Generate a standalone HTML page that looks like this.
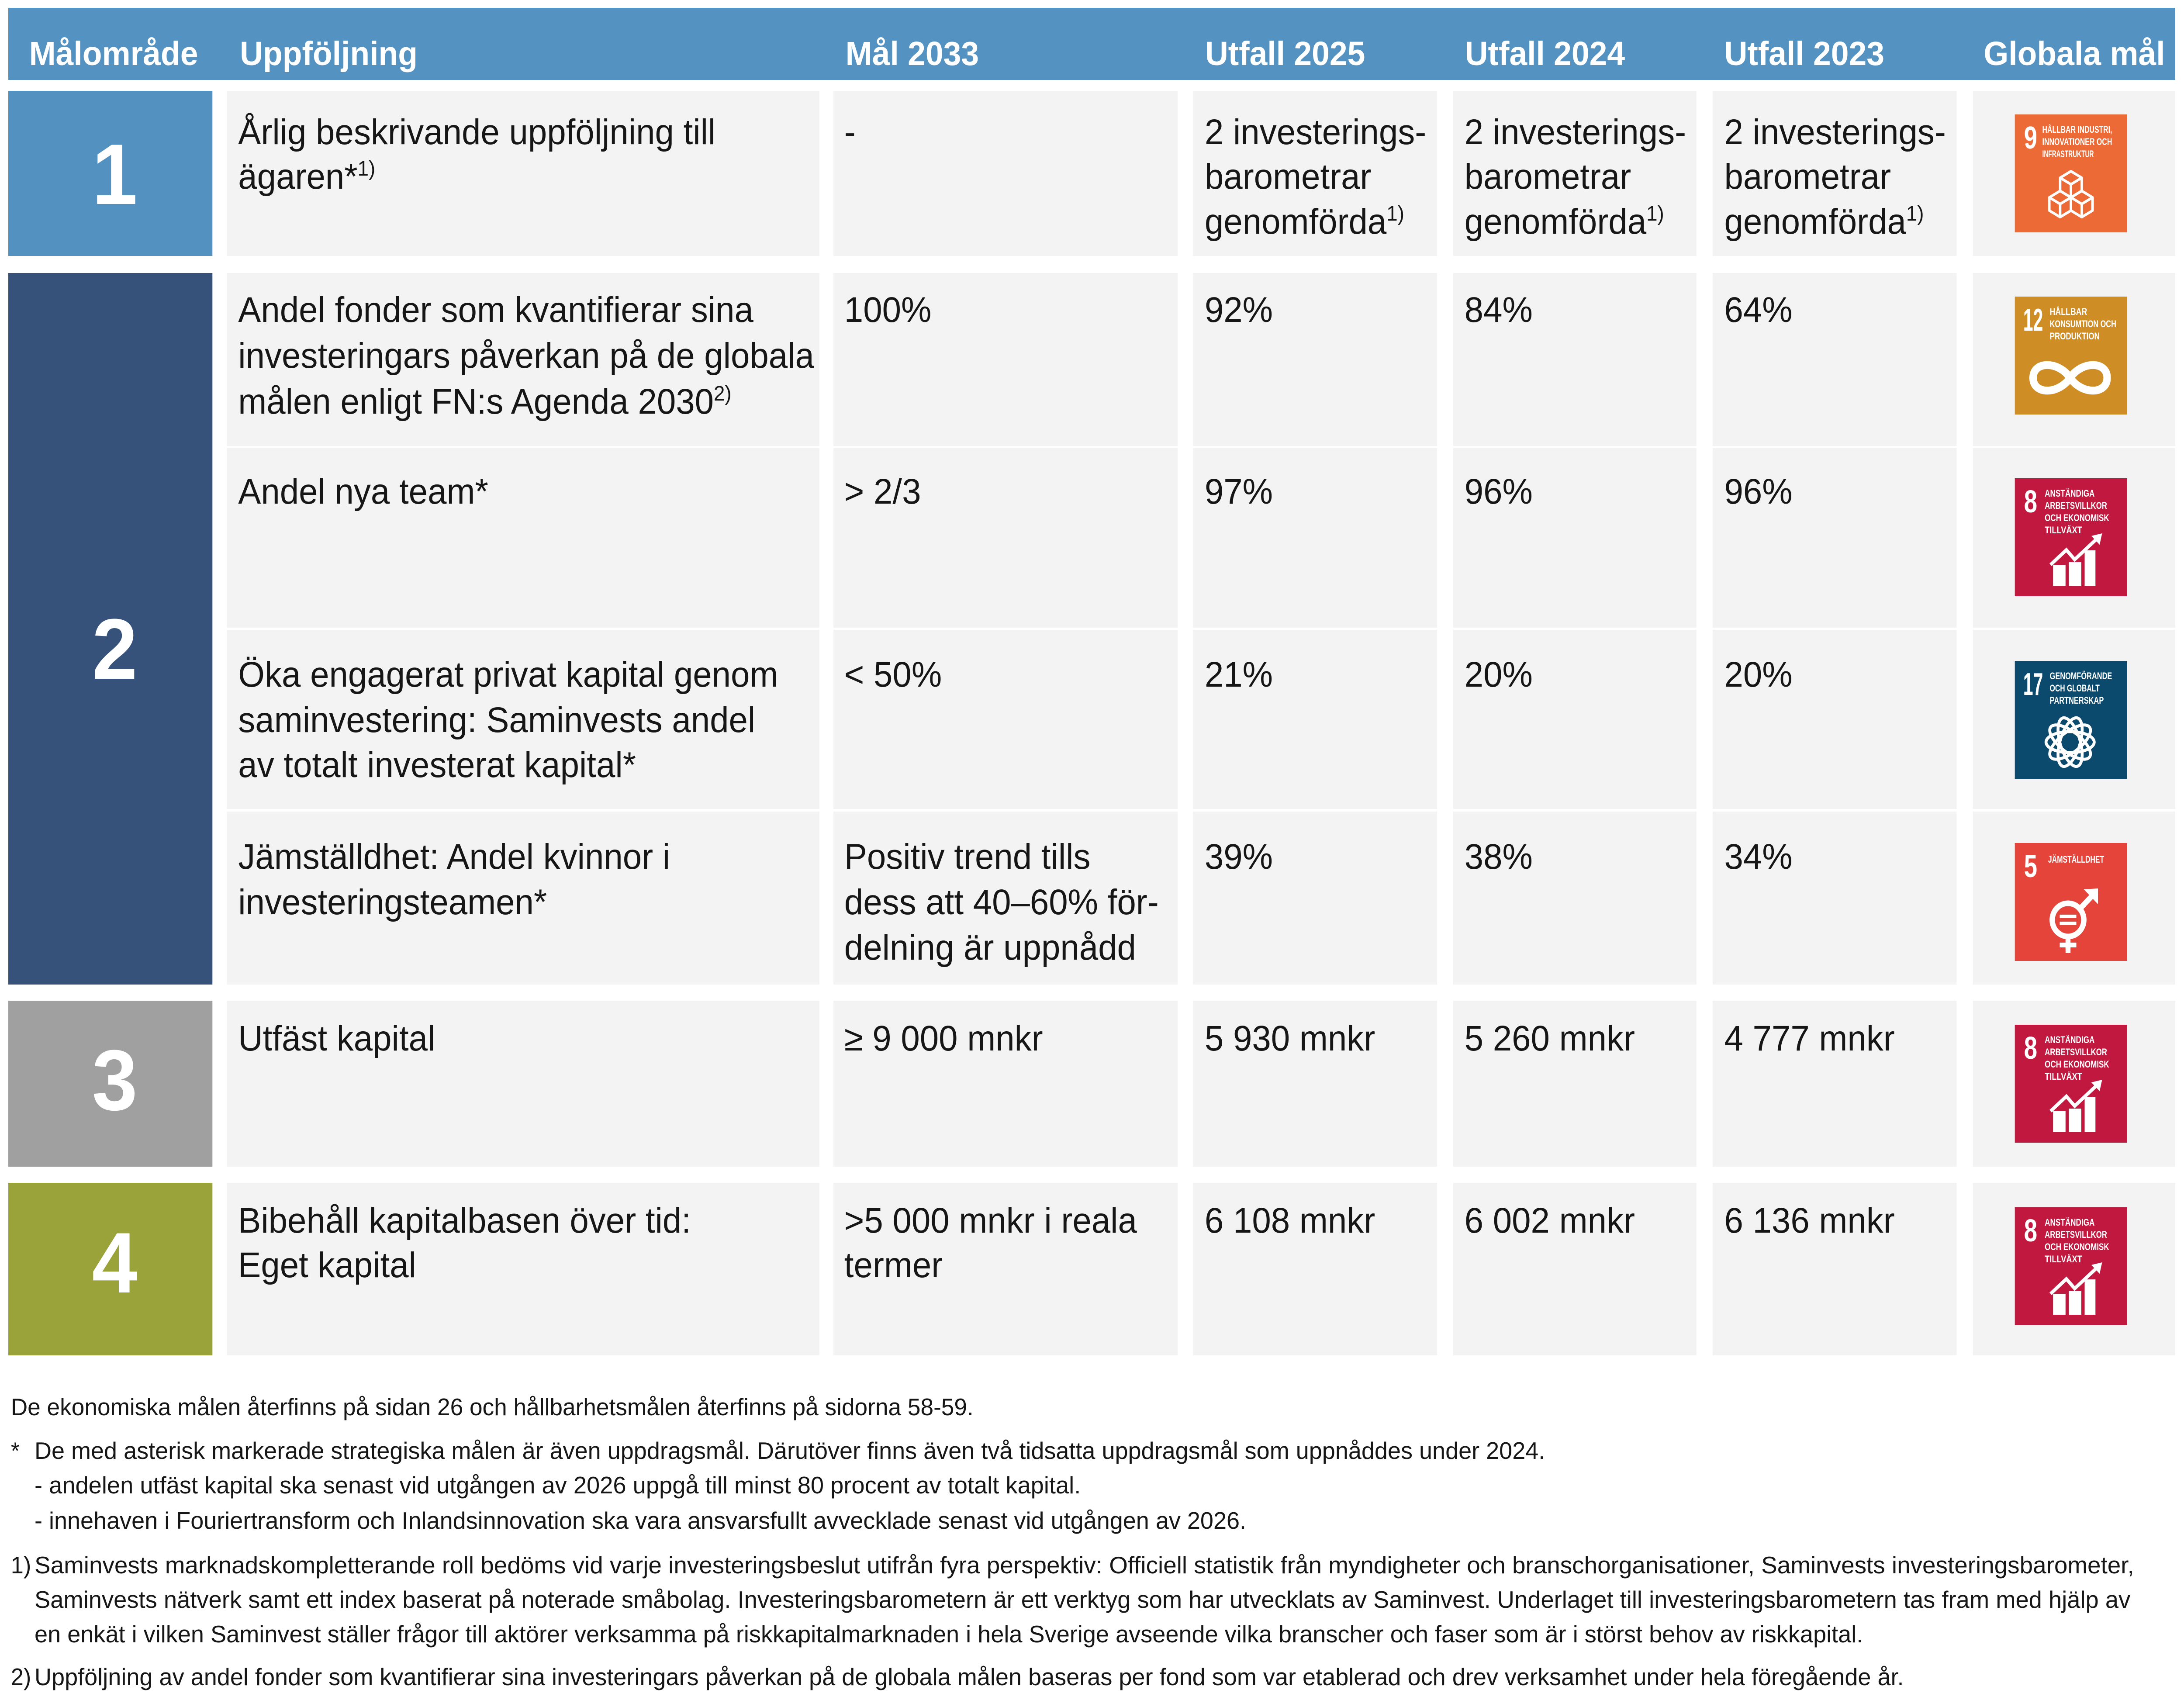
<!DOCTYPE html>
<html>
<head>
<meta charset="utf-8">
<style>
html,body{margin:0;padding:0;background:#fff;width:100%;height:100%;overflow:hidden;}
svg{position:absolute;left:0;top:0;width:100vw;height:100vh;display:block;}
.t{font-family:"Liberation Sans",sans-serif;font-size:82px;fill:#161616;}
.h{font-family:"Liberation Sans",sans-serif;font-size:77px;font-weight:bold;fill:#fff;}
.d{font-family:"Liberation Sans",sans-serif;font-size:197px;font-weight:bold;fill:#fff;}
.f{font-family:"Liberation Sans",sans-serif;font-size:55px;fill:#161616;}
.n{font-family:"Liberation Sans",sans-serif;font-size:72px;font-weight:bold;fill:#fff;}
.s{font-family:"Liberation Sans",sans-serif;font-size:22px;font-weight:bold;fill:#fff;}
</style>
</head>
<body>
<svg viewBox="0 0 5254 3892" preserveAspectRatio="none" xmlns="http://www.w3.org/2000/svg">
<rect x="0" y="0" width="5254" height="3892" fill="#ffffff"/>

<!-- Header -->
<rect x="20" y="18" width="5213" height="165" fill="#5492c2"/>
<text class="h" x="70" y="149">Målområde</text>
<text class="h" x="577" y="149">Uppföljning</text>
<text class="h" x="2034" y="149">Mål 2033</text>
<text class="h" x="2899" y="149">Utfall 2025</text>
<text class="h" x="3524" y="149">Utfall 2024</text>
<text class="h" x="4148" y="149">Utfall 2023</text>
<text class="h" x="4772" y="149">Globala mål</text>

<!-- Column 1 blocks -->
<rect x="20" y="208" width="491" height="378" fill="#5391c1"/>
<rect x="20" y="625" width="491" height="1629" fill="#36527b"/>
<rect x="20" y="2291" width="491" height="380" fill="#a0a0a0"/>
<rect x="20" y="2708" width="491" height="395" fill="#9aa23a"/>
<text class="d" x="276" y="467" text-anchor="middle">1</text>
<text class="d" x="276" y="1554" text-anchor="middle">2</text>
<text class="d" x="276" y="2541" text-anchor="middle">3</text>
<text class="d" x="276" y="2959" text-anchor="middle">4</text>

<!-- Cells -->
<g fill="#f3f3f3">
<rect x="546" y="208" width="1425" height="378"/>
<rect x="2005" y="208" width="828" height="378"/>
<rect x="2870" y="208" width="587" height="378"/>
<rect x="3496" y="208" width="585" height="378"/>
<rect x="4120" y="208" width="587" height="378"/>
<rect x="4746" y="208" width="487" height="378"/>

<rect x="546" y="625" width="1425" height="396"/>
<rect x="2005" y="625" width="828" height="396"/>
<rect x="2870" y="625" width="587" height="396"/>
<rect x="3496" y="625" width="585" height="396"/>
<rect x="4120" y="625" width="587" height="396"/>
<rect x="4746" y="625" width="487" height="396"/>

<rect x="546" y="1026" width="1425" height="411"/>
<rect x="2005" y="1026" width="828" height="411"/>
<rect x="2870" y="1026" width="587" height="411"/>
<rect x="3496" y="1026" width="585" height="411"/>
<rect x="4120" y="1026" width="587" height="411"/>
<rect x="4746" y="1026" width="487" height="411"/>

<rect x="546" y="1442" width="1425" height="410"/>
<rect x="2005" y="1442" width="828" height="410"/>
<rect x="2870" y="1442" width="587" height="410"/>
<rect x="3496" y="1442" width="585" height="410"/>
<rect x="4120" y="1442" width="587" height="410"/>
<rect x="4746" y="1442" width="487" height="410"/>

<rect x="546" y="1858" width="1425" height="396"/>
<rect x="2005" y="1858" width="828" height="396"/>
<rect x="2870" y="1858" width="587" height="396"/>
<rect x="3496" y="1858" width="585" height="396"/>
<rect x="4120" y="1858" width="587" height="396"/>
<rect x="4746" y="1858" width="487" height="396"/>

<rect x="546" y="2291" width="1425" height="380"/>
<rect x="2005" y="2291" width="828" height="380"/>
<rect x="2870" y="2291" width="587" height="380"/>
<rect x="3496" y="2291" width="585" height="380"/>
<rect x="4120" y="2291" width="587" height="380"/>
<rect x="4746" y="2291" width="487" height="380"/>

<rect x="546" y="2708" width="1425" height="395"/>
<rect x="2005" y="2708" width="828" height="395"/>
<rect x="2870" y="2708" width="587" height="395"/>
<rect x="3496" y="2708" width="585" height="395"/>
<rect x="4120" y="2708" width="587" height="395"/>
<rect x="4746" y="2708" width="487" height="395"/>
</g>

<!-- Row 1 text -->
<text class="t" x="573" y="330">Årlig beskrivande uppföljning till</text>
<text class="t" x="573" y="432">ägaren*<tspan font-size="48" dy="-30">1)</tspan></text>
<text class="t" x="2031" y="330">-</text>
<text class="t" x="2898" y="330">2 investerings-</text>
<text class="t" x="2898" y="432">barometrar</text>
<text class="t" x="2898" y="535">genomförda<tspan font-size="48" dy="-30">1)</tspan></text>
<text class="t" x="3523" y="330">2 investerings-</text>
<text class="t" x="3523" y="432">barometrar</text>
<text class="t" x="3523" y="535">genomförda<tspan font-size="48" dy="-30">1)</tspan></text>
<text class="t" x="4148" y="330">2 investerings-</text>
<text class="t" x="4148" y="432">barometrar</text>
<text class="t" x="4148" y="535">genomförda<tspan font-size="48" dy="-30">1)</tspan></text>

<!-- Row 2a -->
<text class="t" x="573" y="737">Andel fonder som kvantifierar sina</text>
<text class="t" x="573" y="842">investeringars påverkan på de globala</text>
<text class="t" x="573" y="947">målen enligt FN:s Agenda 2030<tspan font-size="48" dy="-30">2)</tspan></text>
<text class="t" x="2031" y="737">100%</text>
<text class="t" x="2898" y="737">92%</text>
<text class="t" x="3523" y="737">84%</text>
<text class="t" x="4148" y="737">64%</text>

<!-- Row 2b -->
<text class="t" x="573" y="1153">Andel nya team*</text>
<text class="t" x="2031" y="1153">&gt; 2/3</text>
<text class="t" x="2898" y="1153">97%</text>
<text class="t" x="3523" y="1153">96%</text>
<text class="t" x="4148" y="1153">96%</text>

<!-- Row 2c -->
<text class="t" x="573" y="1572">Öka engagerat privat kapital genom</text>
<text class="t" x="573" y="1676">saminvestering: Saminvests andel</text>
<text class="t" x="573" y="1779">av totalt investerat kapital*</text>
<text class="t" x="2031" y="1572">&lt; 50%</text>
<text class="t" x="2898" y="1572">21%</text>
<text class="t" x="3523" y="1572">20%</text>
<text class="t" x="4148" y="1572">20%</text>

<!-- Row 2d -->
<text class="t" x="573" y="1989">Jämställdhet: Andel kvinnor i</text>
<text class="t" x="573" y="2093">investeringsteamen*</text>
<text class="t" x="2031" y="1989">Positiv trend tills</text>
<text class="t" x="2031" y="2093">dess att 40–60% för-</text>
<text class="t" x="2031" y="2197">delning är uppnådd</text>
<text class="t" x="2898" y="1989">39%</text>
<text class="t" x="3523" y="1989">38%</text>
<text class="t" x="4148" y="1989">34%</text>

<!-- Row 3 -->
<text class="t" x="573" y="2405">Utfäst kapital</text>
<text class="t" x="2031" y="2405">≥ 9 000 mnkr</text>
<text class="t" x="2898" y="2405">5 930 mnkr</text>
<text class="t" x="3523" y="2405">5 260 mnkr</text>
<text class="t" x="4148" y="2405">4 777 mnkr</text>

<!-- Row 4 -->
<text class="t" x="573" y="2822">Bibehåll kapitalbasen över tid:</text>
<text class="t" x="573" y="2924">Eget kapital</text>
<text class="t" x="2031" y="2822">&gt;5 000 mnkr i reala</text>
<text class="t" x="2031" y="2924">termer</text>
<text class="t" x="2898" y="2822">6 108 mnkr</text>
<text class="t" x="3523" y="2822">6 002 mnkr</text>
<text class="t" x="4148" y="2822">6 136 mnkr</text>

<!-- SDG 9 -->
<g transform="translate(4847,262)">
<rect width="270" height="270" fill="#ec6a36"/>
<text class="n" x="22" y="78" textLength="32" lengthAdjust="spacingAndGlyphs">9</text>
<text class="s" x="66" y="42" textLength="168" lengthAdjust="spacingAndGlyphs">HÅLLBAR INDUSTRI,</text>
<text class="s" x="66" y="70" textLength="168" lengthAdjust="spacingAndGlyphs">INNOVATIONER OCH</text>
<text class="s" x="66" y="98" textLength="124" lengthAdjust="spacingAndGlyphs">INFRASTRUKTUR</text>
<g fill="none" stroke="#fff" stroke-width="6" stroke-linejoin="round">
<path d="M135 130 L161 145 L161 175 L135 190 L109 175 L109 145 Z M135 160 V190 M135 160 L109 145 M135 160 L161 145"/>
<path d="M109 175 L135 190 L135 220 L109 235 L83 220 L83 190 Z M109 205 V235 M109 205 L83 190 M109 205 L135 190"/>
<path d="M161 175 L187 190 L187 220 L161 235 L135 220 L135 190 Z M161 205 V235 M161 205 L135 190 M161 205 L187 190"/>
</g>
</g>

<!-- SDG 12 -->
<g transform="translate(4847,679)">
<rect width="270" height="270" fill="#cf8d26"/>
<text class="n" x="20" y="78" textLength="48" lengthAdjust="spacingAndGlyphs">12</text>
<text class="s" x="84" y="42" textLength="90" lengthAdjust="spacingAndGlyphs">HÅLLBAR</text>
<text class="s" x="84" y="70" textLength="160" lengthAdjust="spacingAndGlyphs">KONSUMTION OCH</text>
<text class="s" x="84" y="98" textLength="120" lengthAdjust="spacingAndGlyphs">PRODUKTION</text>
<path d="M133 186 C105 147, 44 147, 44 186 C44 225, 105 225, 133 186 C161 147, 222 147, 222 186 C222 225, 161 225, 133 186 Z" fill="none" stroke="#fff" stroke-width="18"/>
</g>

<!-- SDG 8 (row 2b) -->
<g transform="translate(4847,1095)">
<rect width="270" height="270" fill="#c0183f"/>
<text class="n" x="22" y="78" textLength="32" lengthAdjust="spacingAndGlyphs">8</text>
<text class="s" x="72" y="42" textLength="120" lengthAdjust="spacingAndGlyphs">ANSTÄNDIGA</text>
<text class="s" x="72" y="70" textLength="150" lengthAdjust="spacingAndGlyphs">ARBETSVILLKOR</text>
<text class="s" x="72" y="98" textLength="155" lengthAdjust="spacingAndGlyphs">OCH EKONOMISK</text>
<text class="s" x="72" y="126" textLength="90" lengthAdjust="spacingAndGlyphs">TILLVÄXT</text>
<g fill="#fff">
<rect x="92" y="198" width="30" height="48"/>
<rect x="130" y="192" width="30" height="54"/>
<rect x="168" y="165" width="26" height="81"/>
<polygon points="210,126 184,132 204,152"/>
</g>
<polyline points="86,198 124,164 144,186 198,138" fill="none" stroke="#fff" stroke-width="8"/>
</g>

<!-- SDG 17 -->
<g transform="translate(4847,1513)">
<rect width="270" height="270" fill="#0b4a6d"/>
<text class="n" x="20" y="78" textLength="48" lengthAdjust="spacingAndGlyphs">17</text>
<text class="s" x="84" y="42" textLength="150" lengthAdjust="spacingAndGlyphs">GENOMFÖRANDE</text>
<text class="s" x="84" y="70" textLength="120" lengthAdjust="spacingAndGlyphs">OCH GLOBALT</text>
<text class="s" x="84" y="98" textLength="130" lengthAdjust="spacingAndGlyphs">PARTNERSKAP</text>
<g fill="none" stroke="#fff" stroke-width="7">
<ellipse cx="133" cy="186" rx="58" ry="24"/>
<ellipse cx="133" cy="186" rx="58" ry="24" transform="rotate(36 133 186)"/>
<ellipse cx="133" cy="186" rx="58" ry="24" transform="rotate(72 133 186)"/>
<ellipse cx="133" cy="186" rx="58" ry="24" transform="rotate(108 133 186)"/>
<ellipse cx="133" cy="186" rx="58" ry="24" transform="rotate(144 133 186)"/>
</g>
</g>

<!-- SDG 5 -->
<g transform="translate(4847,1930)">
<rect width="270" height="270" fill="#e5443a"/>
<text class="n" x="22" y="78" textLength="32" lengthAdjust="spacingAndGlyphs">5</text>
<text class="s" x="80" y="45" textLength="135" lengthAdjust="spacingAndGlyphs">JÄMSTÄLLDHET</text>
<circle cx="128" cy="176" r="38" fill="none" stroke="#fff" stroke-width="13"/>
<g fill="#fff">
<rect x="108" y="164" width="40" height="8"/>
<rect x="108" y="180" width="40" height="8"/>
<rect x="122" y="212" width="12" height="40"/>
<rect x="108" y="228" width="40" height="11"/>
<polygon points="200,104 200,140 188,128 160,156 151,147 179,119 166,106"/>
</g>
</g>

<!-- SDG 8 (row 3) -->
<g transform="translate(4847,2346)">
<rect width="270" height="270" fill="#c0183f"/>
<text class="n" x="22" y="78" textLength="32" lengthAdjust="spacingAndGlyphs">8</text>
<text class="s" x="72" y="42" textLength="120" lengthAdjust="spacingAndGlyphs">ANSTÄNDIGA</text>
<text class="s" x="72" y="70" textLength="150" lengthAdjust="spacingAndGlyphs">ARBETSVILLKOR</text>
<text class="s" x="72" y="98" textLength="155" lengthAdjust="spacingAndGlyphs">OCH EKONOMISK</text>
<text class="s" x="72" y="126" textLength="90" lengthAdjust="spacingAndGlyphs">TILLVÄXT</text>
<g fill="#fff">
<rect x="92" y="198" width="30" height="48"/>
<rect x="130" y="192" width="30" height="54"/>
<rect x="168" y="165" width="26" height="81"/>
<polygon points="210,126 184,132 204,152"/>
</g>
<polyline points="86,198 124,164 144,186 198,138" fill="none" stroke="#fff" stroke-width="8"/>
</g>

<!-- SDG 8 (row 4) -->
<g transform="translate(4847,2764)">
<rect width="270" height="270" fill="#c0183f"/>
<text class="n" x="22" y="78" textLength="32" lengthAdjust="spacingAndGlyphs">8</text>
<text class="s" x="72" y="42" textLength="120" lengthAdjust="spacingAndGlyphs">ANSTÄNDIGA</text>
<text class="s" x="72" y="70" textLength="150" lengthAdjust="spacingAndGlyphs">ARBETSVILLKOR</text>
<text class="s" x="72" y="98" textLength="155" lengthAdjust="spacingAndGlyphs">OCH EKONOMISK</text>
<text class="s" x="72" y="126" textLength="90" lengthAdjust="spacingAndGlyphs">TILLVÄXT</text>
<g fill="#fff">
<rect x="92" y="198" width="30" height="48"/>
<rect x="130" y="192" width="30" height="54"/>
<rect x="168" y="165" width="26" height="81"/>
<polygon points="210,126 184,132 204,152"/>
</g>
<polyline points="86,198 124,164 144,186 198,138" fill="none" stroke="#fff" stroke-width="8"/>
</g>

<!-- Footer -->
<text class="f" x="26" y="3240" textLength="2316" lengthAdjust="spacingAndGlyphs">De ekonomiska målen återfinns på sidan 26 och hållbarhetsmålen återfinns på sidorna 58-59.</text>
<text class="f" x="26" y="3340">*</text>
<text class="f" x="83" y="3340" textLength="3634" lengthAdjust="spacingAndGlyphs">De med asterisk markerade strategiska målen är även uppdragsmål. Därutöver finns även två tidsatta uppdragsmål som uppnåddes under 2024.</text>
<text class="f" x="83" y="3419" textLength="2517" lengthAdjust="spacingAndGlyphs">- andelen utfäst kapital ska senast vid utgången av 2026 uppgå till minst 80 procent av totalt kapital.</text>
<text class="f" x="83" y="3500" textLength="2915" lengthAdjust="spacingAndGlyphs">- innehaven i Fouriertransform och Inlandsinnovation ska vara ansvarsfullt avvecklade senast vid utgången av 2026.</text>
<text class="f" x="26" y="3602">1)</text>
<text class="f" x="83" y="3602" textLength="5051" lengthAdjust="spacingAndGlyphs">Saminvests marknadskompletterande roll bedöms vid varje investeringsbeslut utifrån fyra perspektiv: Officiell statistik från myndigheter och branschorganisationer, Saminvests investeringsbarometer,</text>
<text class="f" x="83" y="3681" textLength="5042" lengthAdjust="spacingAndGlyphs">Saminvests nätverk samt ett index baserat på noterade småbolag. Investeringsbarometern är ett verktyg som har utvecklats av Saminvest. Underlaget till investeringsbarometern tas fram med hjälp av</text>
<text class="f" x="83" y="3760" textLength="4399" lengthAdjust="spacingAndGlyphs">en enkät i vilken Saminvest ställer frågor till aktörer verksamma på riskkapitalmarknaden i hela Sverige avseende vilka branscher och faser som är i störst behov av riskkapital.</text>
<text class="f" x="26" y="3858">2)</text>
<text class="f" x="83" y="3858" textLength="4497" lengthAdjust="spacingAndGlyphs">Uppföljning av andel fonder som kvantifierar sina investeringars påverkan på de globala målen baseras per fond som var etablerad och drev verksamhet under hela föregående år.</text>
</svg>
</body>
</html>
